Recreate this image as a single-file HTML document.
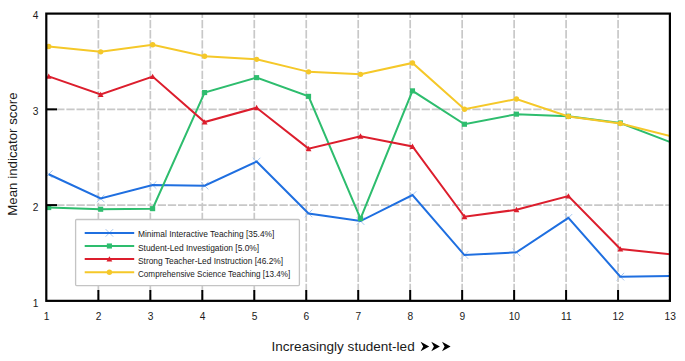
<!DOCTYPE html>
<html><head><meta charset="utf-8"><style>
html,body{margin:0;padding:0;background:#fff;}
body{width:685px;height:361px;overflow:hidden;}
svg{display:block;}
text{font-family:"Liberation Sans",sans-serif;fill:#1a1a1a;}
.tk{font-size:10.2px;}
.lg{font-size:9px;}
.ax{font-size:13.5px;}
</style></head><body>
<svg width="685" height="361" viewBox="0 0 685 361">
<defs><clipPath id="pc"><rect x="46.3" y="13.6" width="623.6" height="287.25"/></clipPath></defs>
<line x1="98.37" y1="13.6" x2="98.37" y2="300.85" stroke="#c8c8c8" stroke-width="1.7" stroke-dasharray="8.3 1.85" stroke-dashoffset="3.8"/><line x1="150.34" y1="13.6" x2="150.34" y2="300.85" stroke="#c8c8c8" stroke-width="1.7" stroke-dasharray="8.3 1.85" stroke-dashoffset="3.8"/><line x1="202.31" y1="13.6" x2="202.31" y2="300.85" stroke="#c8c8c8" stroke-width="1.7" stroke-dasharray="8.3 1.85" stroke-dashoffset="3.8"/><line x1="254.28" y1="13.6" x2="254.28" y2="300.85" stroke="#c8c8c8" stroke-width="1.7" stroke-dasharray="8.3 1.85" stroke-dashoffset="3.8"/><line x1="306.25" y1="13.6" x2="306.25" y2="300.85" stroke="#c8c8c8" stroke-width="1.7" stroke-dasharray="8.3 1.85" stroke-dashoffset="3.8"/><line x1="358.22" y1="13.6" x2="358.22" y2="300.85" stroke="#c8c8c8" stroke-width="1.7" stroke-dasharray="8.3 1.85" stroke-dashoffset="3.8"/><line x1="410.19" y1="13.6" x2="410.19" y2="300.85" stroke="#c8c8c8" stroke-width="1.7" stroke-dasharray="8.3 1.85" stroke-dashoffset="3.8"/><line x1="462.16" y1="13.6" x2="462.16" y2="300.85" stroke="#c8c8c8" stroke-width="1.7" stroke-dasharray="8.3 1.85" stroke-dashoffset="3.8"/><line x1="514.13" y1="13.6" x2="514.13" y2="300.85" stroke="#c8c8c8" stroke-width="1.7" stroke-dasharray="8.3 1.85" stroke-dashoffset="3.8"/><line x1="566.1" y1="13.6" x2="566.1" y2="300.85" stroke="#c8c8c8" stroke-width="1.7" stroke-dasharray="8.3 1.85" stroke-dashoffset="3.8"/><line x1="618.07" y1="13.6" x2="618.07" y2="300.85" stroke="#c8c8c8" stroke-width="1.7" stroke-dasharray="8.3 1.85" stroke-dashoffset="3.8"/><line x1="46.3" y1="205.1" x2="669.9" y2="205.1" stroke="#c8c8c8" stroke-width="1.7" stroke-dasharray="8.3 1.85" stroke-dashoffset="0.25"/><line x1="46.3" y1="109.35" x2="669.9" y2="109.35" stroke="#c8c8c8" stroke-width="1.7" stroke-dasharray="8.3 1.85" stroke-dashoffset="0.25"/>
<g clip-path="url(#pc)"><path d="M44.9 170.45L52.5 178.05M44.9 178.05L52.5 170.45" stroke="#a9c8f0" stroke-width="1" fill="none"/><path d="M96.87 194.65L104.47 202.25M96.87 202.25L104.47 194.65" stroke="#a9c8f0" stroke-width="1" fill="none"/><path d="M148.84 181.25L156.44 188.85M148.84 188.85L156.44 181.25" stroke="#a9c8f0" stroke-width="1" fill="none"/><path d="M200.81 181.85L208.41 189.45M200.81 189.45L208.41 181.85" stroke="#a9c8f0" stroke-width="1" fill="none"/><path d="M252.78 157.75L260.38 165.35M252.78 165.35L260.38 157.75" stroke="#a9c8f0" stroke-width="1" fill="none"/><path d="M304.75 209.65L312.35 217.25M304.75 217.25L312.35 209.65" stroke="#a9c8f0" stroke-width="1" fill="none"/><path d="M356.72 217.25L364.32 224.85M356.72 224.85L364.32 217.25" stroke="#a9c8f0" stroke-width="1" fill="none"/><path d="M408.69 191.25L416.29 198.85M408.69 198.85L416.29 191.25" stroke="#a9c8f0" stroke-width="1" fill="none"/><path d="M460.66 251.25L468.26 258.85M460.66 258.85L468.26 251.25" stroke="#a9c8f0" stroke-width="1" fill="none"/><path d="M512.63 248.55L520.23 256.15M512.63 256.15L520.23 248.55" stroke="#a9c8f0" stroke-width="1" fill="none"/><path d="M564.6 214.05L572.2 221.65M564.6 221.65L572.2 214.05" stroke="#a9c8f0" stroke-width="1" fill="none"/><path d="M616.57 272.85L624.17 280.45M616.57 280.45L624.17 272.85" stroke="#a9c8f0" stroke-width="1" fill="none"/><path d="M668.54 272.15L676.14 279.75M668.54 279.75L676.14 272.15" stroke="#a9c8f0" stroke-width="1" fill="none"/><polyline points="48.7,174.25 100.67,198.45 152.64,185.05 204.61,185.65 256.58,161.55 308.55,213.45 360.52,221.05 412.49,195.05 464.46,255.05 516.43,252.35 568.4,217.85 620.37,276.65 672.34,275.95" fill="none" stroke="#1f6fe0" stroke-width="2" stroke-linejoin="miter"/><polyline points="48.7,207.55 100.67,209.25 152.64,208.65 204.61,92.55 256.58,77.65 308.55,96.35 360.52,218.65 412.49,90.85 464.46,124.25 516.43,114.15 568.4,116.25 620.37,122.95 672.34,142.85" fill="none" stroke="#2ebd6e" stroke-width="2" stroke-linejoin="miter"/><rect x="46.15" y="205" width="5.1" height="5.1" fill="#2ebd6e"/><rect x="98.12" y="206.7" width="5.1" height="5.1" fill="#2ebd6e"/><rect x="150.09" y="206.1" width="5.1" height="5.1" fill="#2ebd6e"/><rect x="202.06" y="90" width="5.1" height="5.1" fill="#2ebd6e"/><rect x="254.03" y="75.1" width="5.1" height="5.1" fill="#2ebd6e"/><rect x="306" y="93.8" width="5.1" height="5.1" fill="#2ebd6e"/><rect x="357.97" y="216.1" width="5.1" height="5.1" fill="#2ebd6e"/><rect x="409.94" y="88.3" width="5.1" height="5.1" fill="#2ebd6e"/><rect x="461.91" y="121.7" width="5.1" height="5.1" fill="#2ebd6e"/><rect x="513.88" y="111.6" width="5.1" height="5.1" fill="#2ebd6e"/><rect x="565.85" y="113.7" width="5.1" height="5.1" fill="#2ebd6e"/><rect x="617.82" y="120.4" width="5.1" height="5.1" fill="#2ebd6e"/><rect x="669.79" y="140.3" width="5.1" height="5.1" fill="#2ebd6e"/><polyline points="48.7,76.35 100.67,94.55 152.64,76.55 204.61,122.05 256.58,107.75 308.55,148.65 360.52,136.25 412.49,146.45 464.46,216.75 516.43,209.75 568.4,196.05 620.37,249.05 672.34,254.45" fill="none" stroke="#dc1e2d" stroke-width="2" stroke-linejoin="miter"/><path d="M48.7 73.45L51.6 78.85L45.8 78.85Z" fill="#dc1e2d"/><path d="M100.67 91.65L103.57 97.05L97.77 97.05Z" fill="#dc1e2d"/><path d="M152.64 73.65L155.54 79.05L149.74 79.05Z" fill="#dc1e2d"/><path d="M204.61 119.15L207.51 124.55L201.71 124.55Z" fill="#dc1e2d"/><path d="M256.58 104.85L259.48 110.25L253.68 110.25Z" fill="#dc1e2d"/><path d="M308.55 145.75L311.45 151.15L305.65 151.15Z" fill="#dc1e2d"/><path d="M360.52 133.35L363.42 138.75L357.62 138.75Z" fill="#dc1e2d"/><path d="M412.49 143.55L415.39 148.95L409.59 148.95Z" fill="#dc1e2d"/><path d="M464.46 213.85L467.36 219.25L461.56 219.25Z" fill="#dc1e2d"/><path d="M516.43 206.85L519.33 212.25L513.53 212.25Z" fill="#dc1e2d"/><path d="M568.4 193.15L571.3 198.55L565.5 198.55Z" fill="#dc1e2d"/><path d="M620.37 246.15L623.27 251.55L617.47 251.55Z" fill="#dc1e2d"/><path d="M672.34 251.55L675.24 256.95L669.44 256.95Z" fill="#dc1e2d"/><polyline points="48.7,46.45 100.67,51.85 152.64,44.75 204.61,56.25 256.58,59.35 308.55,71.85 360.52,74.35 412.49,62.95 464.46,109.25 516.43,99.05 568.4,116.55 620.37,123.45 672.34,136.55" fill="none" stroke="#f5c829" stroke-width="2" stroke-linejoin="miter"/><circle cx="48.7" cy="46.45" r="2.7" fill="#f5c829"/><circle cx="100.67" cy="51.85" r="2.7" fill="#f5c829"/><circle cx="152.64" cy="44.75" r="2.7" fill="#f5c829"/><circle cx="204.61" cy="56.25" r="2.7" fill="#f5c829"/><circle cx="256.58" cy="59.35" r="2.7" fill="#f5c829"/><circle cx="308.55" cy="71.85" r="2.7" fill="#f5c829"/><circle cx="360.52" cy="74.35" r="2.7" fill="#f5c829"/><circle cx="412.49" cy="62.95" r="2.7" fill="#f5c829"/><circle cx="464.46" cy="109.25" r="2.7" fill="#f5c829"/><circle cx="516.43" cy="99.05" r="2.7" fill="#f5c829"/><circle cx="568.4" cy="116.55" r="2.7" fill="#f5c829"/><circle cx="620.37" cy="123.45" r="2.7" fill="#f5c829"/><circle cx="672.34" cy="136.55" r="2.7" fill="#f5c829"/></g>
<line x1="98.37" y1="290" x2="98.37" y2="300.85" stroke="#000" stroke-width="2"/><line x1="150.34" y1="290" x2="150.34" y2="300.85" stroke="#000" stroke-width="2"/><line x1="202.31" y1="290" x2="202.31" y2="300.85" stroke="#000" stroke-width="2"/><line x1="254.28" y1="290" x2="254.28" y2="300.85" stroke="#000" stroke-width="2"/><line x1="306.25" y1="290" x2="306.25" y2="300.85" stroke="#000" stroke-width="2"/><line x1="358.22" y1="290" x2="358.22" y2="300.85" stroke="#000" stroke-width="2"/><line x1="410.19" y1="290" x2="410.19" y2="300.85" stroke="#000" stroke-width="2"/><line x1="462.16" y1="290" x2="462.16" y2="300.85" stroke="#000" stroke-width="2"/><line x1="514.13" y1="290" x2="514.13" y2="300.85" stroke="#000" stroke-width="2"/><line x1="566.1" y1="290" x2="566.1" y2="300.85" stroke="#000" stroke-width="2"/><line x1="618.07" y1="290" x2="618.07" y2="300.85" stroke="#000" stroke-width="2"/><line x1="46.3" y1="205.1" x2="57" y2="205.1" stroke="#000" stroke-width="2"/><line x1="46.3" y1="109.35" x2="57" y2="109.35" stroke="#000" stroke-width="2"/>
<rect x="46.3" y="13.6" width="623.6" height="287.25" fill="none" stroke="#000" stroke-width="2.2"/>
<rect x="75.6" y="219.5" width="223.8" height="66.1" rx="1" fill="#fff" stroke="#c4c4c4" stroke-width="1.3"/><path d="M105.6 229.1L113.2 236.7M105.6 236.7L113.2 229.1" stroke="#a9c8f0" stroke-width="1" fill="none"/><line x1="84.7" y1="232.9" x2="134.2" y2="232.9" stroke="#1f6fe0" stroke-width="2"/><text x="138" y="237.4" class="lg" textLength="136.4" lengthAdjust="spacingAndGlyphs">Minimal Interactive Teaching [35.4%]</text><line x1="84.7" y1="246" x2="134.2" y2="246" stroke="#2ebd6e" stroke-width="2"/><rect x="106.85" y="243.45" width="5.1" height="5.1" fill="#2ebd6e"/><text x="138" y="250.5" class="lg" textLength="121.1" lengthAdjust="spacingAndGlyphs">Student-Led Investigation [5.0%]</text><line x1="84.7" y1="259.1" x2="134.2" y2="259.1" stroke="#dc1e2d" stroke-width="2"/><path d="M109.4 256.2L112.3 261.6L106.5 261.6Z" fill="#dc1e2d"/><text x="138" y="263.6" class="lg" textLength="145.1" lengthAdjust="spacingAndGlyphs">Strong Teacher-Led Instruction [46.2%]</text><line x1="84.7" y1="272.2" x2="134.2" y2="272.2" stroke="#f5c829" stroke-width="2"/><circle cx="109.4" cy="272.2" r="2.7" fill="#f5c829"/><text x="138" y="276.7" class="lg" textLength="152.3" lengthAdjust="spacingAndGlyphs">Comprehensive Science Teaching [13.4%]</text>
<text x="38.5" y="19.4" class="tk" text-anchor="end">4</text><text x="38.5" y="115.15" class="tk" text-anchor="end">3</text><text x="38.5" y="210.9" class="tk" text-anchor="end">2</text><text x="38.5" y="306.65" class="tk" text-anchor="end">1</text><text x="46.6" y="319.6" class="tk" text-anchor="middle">1</text><text x="98.57" y="319.6" class="tk" text-anchor="middle">2</text><text x="150.54" y="319.6" class="tk" text-anchor="middle">3</text><text x="202.51" y="319.6" class="tk" text-anchor="middle">4</text><text x="254.48" y="319.6" class="tk" text-anchor="middle">5</text><text x="306.45" y="319.6" class="tk" text-anchor="middle">6</text><text x="358.42" y="319.6" class="tk" text-anchor="middle">7</text><text x="410.39" y="319.6" class="tk" text-anchor="middle">8</text><text x="462.36" y="319.6" class="tk" text-anchor="middle">9</text><text x="514.33" y="319.6" class="tk" text-anchor="middle">10</text><text x="566.3" y="319.6" class="tk" text-anchor="middle">11</text><text x="618.27" y="319.6" class="tk" text-anchor="middle">12</text><text x="670.24" y="319.6" class="tk" text-anchor="middle">13</text>
<text x="271.5" y="350.6" class="ax" textLength="143.2" lengthAdjust="spacingAndGlyphs">Increasingly student-led</text>
<path d="M420.6 341.8 L429.2 346.5 L420.6 351.2 L423.2 346.5Z" fill="#000"/><path d="M431.3 341.8 L439.9 346.5 L431.3 351.2 L433.9 346.5Z" fill="#000"/><path d="M442 341.8 L450.6 346.5 L442 351.2 L444.6 346.5Z" fill="#000"/>
<text transform="translate(17.1,215.8) rotate(-90)" class="ax" textLength="123.5" lengthAdjust="spacingAndGlyphs">Mean indicator score</text>
</svg>
</body></html>
